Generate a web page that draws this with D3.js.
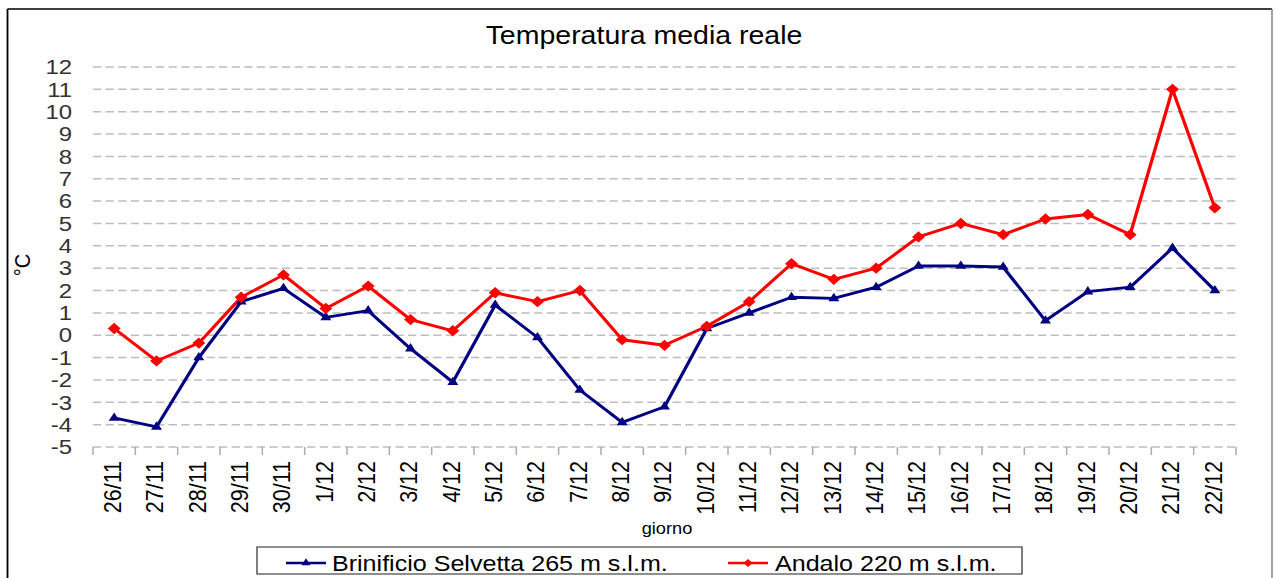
<!DOCTYPE html>
<html>
<head>
<meta charset="utf-8">
<script src="https://cdn.jsdelivr.net/npm/d3@7"></script>
<style>
  body { margin: 0; background: #fff; }
  svg { display: block; font-family: "Liberation Sans", Arial, sans-serif; }
</style>
</head>
<body>
<svg id="chart"></svg>
<script>
// data
var days = ["26/11","27/11","28/11","29/11","30/11","1/12","2/12","3/12","4/12","5/12",
            "6/12","7/12","8/12","9/12","10/12","11/12","12/12","13/12","14/12","15/12",
            "16/12","17/12","18/12","19/12","20/12","21/12","22/12"];
var brinificio = [-3.7,-4.1,-1.0,1.5,2.1,0.8,1.1,-0.6,-2.1,1.35,-0.1,-2.45,-3.9,-3.2,0.3,
                  1.0,1.7,1.65,2.15,3.1,3.1,3.05,0.65,1.95,2.15,3.9,2.0];
var andalo = [0.3,-1.15,-0.35,1.7,2.7,1.2,2.2,0.7,0.2,1.9,1.5,2.0,-0.2,-0.45,0.4,
              1.5,3.2,2.5,3.0,4.4,5.0,4.5,5.2,5.4,4.5,11.0,5.7];
var yTicks = d3.range(-5, 13);
var seriesNames = ["Brinificio Selvetta 265 m s.l.m.", "Andalo 220 m s.l.m."];

// the original picture is stretched horizontally, so draw in a narrower box and stretch
var k = 1.14;
var W = 1276 / k, H = 578;

var svg = d3.select("#chart")
    .attr("width", 1276)
    .attr("height", 578)
    .attr("viewBox", "0 0 " + W + " " + H)
    .attr("preserveAspectRatio", "none");

var plotL = 93 / k, plotR = 1236 / k, plotT = 67, plotB = 447;

var x = d3.scaleBand().domain(days).range([plotL, plotR]);
var y = d3.scaleLinear().domain([-5, 12]).range([plotB, plotT]);
var cx = function(d, i) { return x(days[i]) + x.bandwidth() / 2; };

// outer frame
svg.append("line").attr("x1", 7.5 / k).attr("x2", 7.5 / k).attr("y1", 9).attr("y2", 600)
    .attr("stroke", "#000").attr("stroke-width", 1.6);
svg.append("line").attr("x1", 7.5 / k).attr("x2", 1272 / k).attr("y1", 9).attr("y2", 9)
    .attr("stroke", "#000").attr("stroke-width", 1.6);
svg.append("line").attr("x1", 1272 / k).attr("x2", 1272 / k).attr("y1", 9).attr("y2", 600)
    .attr("stroke", "#777").attr("stroke-width", 1.2);

// title
svg.append("text")
    .attr("x", 644 / k).attr("y", 44)
    .attr("text-anchor", "middle")
    .style("font-size", "25px")
    .attr("fill", "#000")
    .text("Temperatura media reale");

// grid lines
svg.append("g").selectAll("line")
    .data(yTicks)
    .enter().append("line")
    .attr("x1", plotL).attr("x2", plotR)
    .attr("y1", function(d) { return y(d); })
    .attr("y2", function(d) { return y(d); })
    .attr("stroke", "#bdbdbd")
    .attr("stroke-width", 1.5)
    .attr("stroke-dasharray", (8.3 / k) + "," + (4.3 / k));

// y axis labels (plain hyphen for negatives, like the original)
var yAxis = svg.append("g")
    .attr("transform", "translate(" + (72 / k) + ",0)")
    .call(d3.axisLeft(y).tickValues(yTicks).tickSize(0).tickPadding(0)
        .tickFormat(function(d) { return String(d); }));
yAxis.select(".domain").remove();
yAxis.selectAll("text")
    .style("font-size", "21px")
    .style("font-family", "'Liberation Sans', Arial, sans-serif")
    .attr("fill", "#333");

// x tick marks at category boundaries
var edges = days.map(function(d) { return x(d); }).concat([plotR]);
svg.append("g").selectAll("line")
    .data(edges)
    .enter().append("line")
    .attr("x1", function(d) { return d; }).attr("x2", function(d) { return d; })
    .attr("y1", plotB).attr("y2", plotB + 8)
    .attr("stroke", "#aaa").attr("stroke-width", 1.3);

// x labels, rotated
svg.append("g").selectAll("text")
    .data(days)
    .enter().append("text")
    .attr("transform", function(d, i) { return "translate(" + (cx(d, i) - 1.5) + ",461) rotate(-90)"; })
    .attr("text-anchor", "end")
    .attr("dy", "0.35em")
    .style("font-size", "21.5px")
    .attr("fill", "#000")
    .text(function(d) { return d; });

// axis titles
svg.append("text")
    .attr("x", 667 / k).attr("y", 534)
    .attr("text-anchor", "middle")
    .style("font-size", "16px")
    .text("giorno");
svg.append("text")
    .attr("transform", "translate(" + (30 / k) + ",265) rotate(-90)")
    .attr("text-anchor", "middle")
    .style("font-size", "20px")
    .text("°C");

// series
var line = d3.line()
    .x(function(d, i) { return cx(d, i); })
    .y(function(d) { return y(d); });

var triangle = d3.symbol().type(d3.symbolTriangle).size(40);
var diamond = d3.symbol().type(d3.symbolSquare).size(64);

svg.append("path")
    .datum(brinificio)
    .attr("d", line)
    .attr("fill", "none")
    .attr("stroke", "#000080")
    .attr("stroke-width", 2.9)
    .attr("stroke-linejoin", "round");

svg.append("path")
    .datum(andalo)
    .attr("d", line)
    .attr("fill", "none")
    .attr("stroke", "#ff0000")
    .attr("stroke-width", 2.9)
    .attr("stroke-linejoin", "round");

svg.append("g").selectAll("path")
    .data(brinificio)
    .enter().append("path")
    .attr("d", triangle)
    .attr("transform", function(d, i) { return "translate(" + cx(d, i) + "," + y(d) + ")"; })
    .attr("fill", "#000080");

svg.append("g").selectAll("path")
    .data(andalo)
    .enter().append("path")
    .attr("d", diamond)
    .attr("transform", function(d, i) { return "translate(" + cx(d, i) + "," + y(d) + ") rotate(45)"; })
    .attr("fill", "#ff0000");

// legend
var legend = svg.append("g");
legend.append("rect")
    .attr("x", 257 / k).attr("y", 547)
    .attr("width", (1022 - 257) / k).attr("height", 27)
    .attr("fill", "#fff")
    .attr("stroke", "#444")
    .attr("stroke-width", 1.2);

var legendItems = [
    { name: seriesNames[0], color: "#000080", sym: d3.symbol().type(d3.symbolTriangle).size(28), rot: "", lx: 286, tx: 332 },
    { name: seriesNames[1], color: "#ff0000", sym: d3.symbol().type(d3.symbolSquare).size(32), rot: " rotate(45)", lx: 728, tx: 775 }
];
legendItems.forEach(function(it) {
    legend.append("line")
        .attr("x1", it.lx / k).attr("x2", (it.lx + 40) / k)
        .attr("y1", 563).attr("y2", 563)
        .attr("stroke", it.color).attr("stroke-width", 2.4);
    legend.append("path")
        .attr("d", it.sym)
        .attr("transform", "translate(" + ((it.lx + 20) / k) + ",563)" + it.rot)
        .attr("fill", it.color);
    legend.append("text")
        .attr("x", it.tx / k).attr("y", 571)
        .style("font-size", "22px")
        .attr("fill", "#000")
        .text(it.name);
});
</script>
</body>
</html>
